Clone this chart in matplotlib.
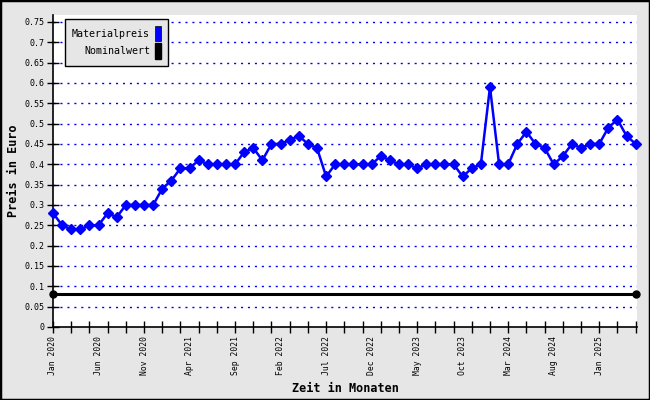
import matplotlib
matplotlib.use("Agg")
import matplotlib.pyplot as plt
from matplotlib.patches import Rectangle
import numpy as np

months = ["Jan", "Feb", "Mar", "Apr", "May", "Jun", "Jul", "Aug", "Sep", "Oct", "Nov", "Dec"]
period_labels = [f"{months[i % 12]} {2020 + i // 12}" for i in range(65)]

materialpreis = [0.28, 0.25, 0.24, 0.24, 0.25, 0.25, 0.28, 0.27, 0.30, 0.30, 0.30, 0.30,
                 0.34, 0.36, 0.39, 0.39, 0.41, 0.40, 0.40, 0.40, 0.40, 0.43, 0.44, 0.41,
                 0.45, 0.45, 0.46, 0.47, 0.45, 0.44, 0.37, 0.40, 0.40, 0.40, 0.40, 0.40,
                 0.42, 0.41, 0.40, 0.40, 0.39, 0.40, 0.40, 0.40, 0.40, 0.37, 0.39, 0.40,
                 0.59, 0.40, 0.40, 0.45, 0.48, 0.45, 0.44, 0.40, 0.42, 0.45, 0.44, 0.45,
                 0.45, 0.49, 0.51, 0.47, 0.45]
nominalwert = 0.08

y_ticks = [0, 0.05, 0.1, 0.15, 0.2, 0.25, 0.3, 0.35, 0.4, 0.45, 0.5, 0.55, 0.6, 0.65, 0.7, 0.75]
y_ticklabels = ["0", "0.05", "0.1", "0.15", "0.2", "0.25", "0.3", "0.35", "0.4", "0.45",
                "0.5", "0.55", "0.6", "0.65", "0.7", "0.75"]

mono = "DejaVu Sans Mono"
bg = "#e6e6e6"

fig = plt.figure(figsize=(6.5, 4.0), dpi=100, facecolor=bg)
fig.patches.append(Rectangle((0, 0), 1, 1, transform=fig.transFigure, fill=False,
                             edgecolor="black", linewidth=2.5, zorder=10))
ax = fig.add_axes([53 / 650, 73 / 400, 584 / 650, 312 / 400])
ax.set_facecolor("white")

x = np.arange(len(materialpreis))
ax.plot(x, materialpreis, color="#0000ff", linewidth=1.8, marker="D", markersize=4.8,
        clip_on=False, zorder=5, label="Materialpreis")
nx = [x[0], x[-1]]
ax.plot(nx, [nominalwert, nominalwert], color="black", linewidth=2.2, marker="o",
        markersize=5, clip_on=False, zorder=5, label="Nominalwert")

ax.set_xlim(0, 64.15)
ax.set_ylim(0, 0.767)

for yv in y_ticks[1:]:
    ax.axhline(yv, color="#0000ff", linewidth=1.0, linestyle=(0, (1.5, 3.5)), zorder=1)

ax.set_yticks(y_ticks)
ax.set_yticklabels(y_ticklabels, fontsize=6, family=mono)
# ticks every 2 months, labels every 5 months
ax.set_xticks(x[::2])
ax.set_xticklabels([""] * len(x[::2]))
for i in x[::5]:
    ax.text(i, -0.022, period_labels[i], rotation=90, ha="center", va="top",
            fontsize=5.8, family=mono, transform=ax.transData)
ax.tick_params(axis="both", direction="inout", length=8, width=1, color="black")
ax.tick_params(axis="y", pad=2)

for s in ["top", "right"]:
    ax.spines[s].set_visible(False)
for s in ["left", "bottom"]:
    ax.spines[s].set_linewidth(1.2)

ax.set_ylabel("Preis in Euro", fontsize=8.5, family=mono, fontweight="bold", labelpad=3)
fig.text(345 / 650, 1 - 389 / 400, "Zeit in Monaten", fontsize=8.5, family=mono,
         fontweight="bold", ha="center", va="center")

handles = [Rectangle((0, 0), 1, 1, facecolor="#0000ff", edgecolor="black", linewidth=0.5),
           Rectangle((0, 0), 1, 1, facecolor="black", edgecolor="black")]
leg = ax.legend(handles, ["Materialpreis", "Nominalwert"], loc="upper left",
                bbox_to_anchor=(12 / 584, 1 - 4 / 312), borderaxespad=0, markerfirst=False,
                prop={"family": mono, "size": 7.2}, handlelength=0.55, handleheight=2.0,
                handletextpad=0.5, labelspacing=0.2, borderpad=0.7, fancybox=False,
                framealpha=1, facecolor=bg, edgecolor="black")
leg.get_frame().set_linewidth(1.0)
for t in leg.get_texts():
    t.set_ha("right")

fig.savefig("out.png", dpi=100, facecolor=bg)
